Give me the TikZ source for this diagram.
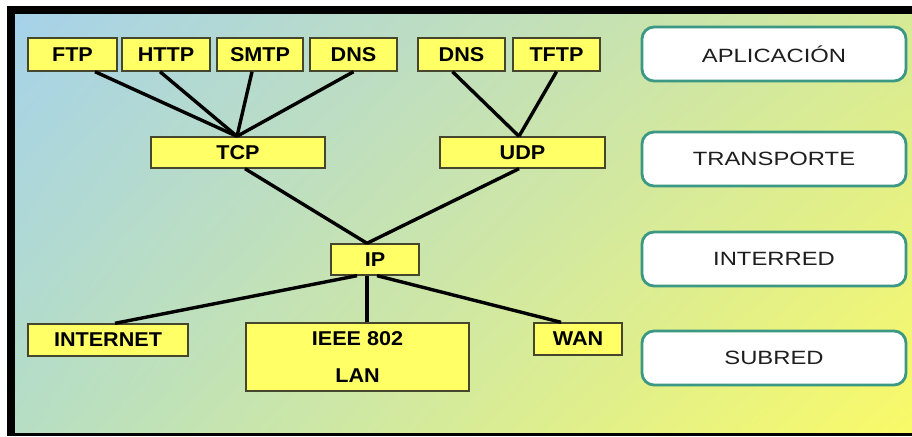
\documentclass[tikz,border=0pt]{standalone}
\usepackage{fontspec}
\usepackage{graphicx}
\setmainfont{Liberation Sans}
\usetikzlibrary{calc,shadings}

\definecolor{boxyellow}{RGB}{255,255,102}
\definecolor{boxedge}{RGB}{70,70,45}
\definecolor{layeredge}{RGB}{58,152,132}
\definecolor{layertext}{RGB}{30,30,30}
\definecolor{bgul}{RGB}{166,210,234}
\definecolor{bgur}{RGB}{214,234,150}
\definecolor{bgll}{RGB}{182,222,196}
\definecolor{bglr}{RGB}{250,250,104}

% horizontally widened labels
\newcommand\protolabel[1]{\scalebox{1.08}[1]{#1}}
\newcommand\layerlabel[1]{\scalebox{1.24}[1]{#1}}

\begin{document}
\begin{tikzpicture}[x=1pt,y=-1pt,
  proto/.style={draw=boxedge, line width=1.4pt, fill=boxyellow, inner sep=0pt,
    font=\fontsize{20}{24}\selectfont\bfseries},
  layer/.style={draw=layeredge, line width=2.8pt, fill=white, rounded corners=12pt,
    minimum width=264pt, minimum height=54pt, inner sep=0pt,
    font=\fontsize{19.2}{22}\selectfont, text=layertext},
  link/.style={line width=3.4pt, black}]

% page, black frame and gradient panel
\useasboundingbox (0,0) rectangle (912,436);
\fill[white] (0,0) rectangle (912,436);
\fill[black] (7,6) rectangle (912,436);
\shade[upper left=bgul, upper right=bgur, lower left=bgll, lower right=bglr]
  (15,15) rectangle (912,432);

% application protocols
\node[proto, minimum width=89pt, minimum height=33pt] (ftp)  at (72.5,54.5)  {\protolabel{FTP}};
\node[proto, minimum width=88pt, minimum height=33pt] (http) at (166,54.5)   {\protolabel{HTTP}};
\node[proto, minimum width=86pt, minimum height=33pt] (smtp) at (260,54.5)   {\protolabel{SMTP}};
\node[proto, minimum width=87pt, minimum height=33pt] (dnsa) at (353.5,54.5) {\protolabel{DNS}};
\node[proto, minimum width=87pt, minimum height=33pt] (dnsb) at (461.5,54.5) {\protolabel{DNS}};
\node[proto, minimum width=87pt, minimum height=33pt] (tftp) at (556.5,54.5) {\protolabel{TFTP}};

% transport
\node[proto, minimum width=174pt, minimum height=31pt] (tcp) at (238,152.5)   {\protolabel{TCP}};
\node[proto, minimum width=165pt, minimum height=31pt] (udp) at (522.5,152.5) {\protolabel{UDP}};

% internetwork
\node[proto, minimum width=88pt, minimum height=31pt] (ip) at (375,259.5) {\protolabel{IP}};

% subnetworks
\node[proto, minimum width=160pt, minimum height=32pt] (inet) at (108,340) {\protolabel{INTERNET}};
\node[proto, minimum width=223pt, minimum height=68pt, align=center,
  font=\fontsize{20}{37}\selectfont\bfseries] (lan) at (357.5,357)
  {\protolabel{IEEE 802}\\\protolabel{LAN}};
\node[proto, minimum width=88pt, minimum height=32pt] (wan) at (578,339) {\protolabel{WAN}};

% layer names
\node[layer] (app)  at (774,54)  {\layerlabel{APLICACIÓN}};
\node[layer] (trn)  at (774,159) {\layerlabel{TRANSPORTE}};
\node[layer] (inr)  at (774,259) {\layerlabel{INTERRED}};
\node[layer] (sub)  at (774,358) {\layerlabel{SUBRED}};

% connectors
\coordinate (tcptop) at ($(tcp.north)+(-1,0)$);
\coordinate (udptop) at ($(udp.north)+(-3.5,0)$);
\coordinate (iptop)  at ($(ip.north)+(-8,0)$);
\draw[link] ($(ftp.south)+(22.5,0)$)  -- (tcptop);
\draw[link] ($(http.south)+(-6,0)$)   -- (tcptop);
\draw[link] ($(smtp.south)+(-8,0)$)   -- (tcptop);
\draw[link] ($(dnsa.south)+(0,0)$)    -- (tcptop);
\draw[link] ($(dnsb.south)+(-9,0)$)   -- (udptop);
\draw[link] ($(tftp.south)+(0,0)$)    -- (udptop);
\draw[link] ($(tcp.south)+(7,0)$)     -- (iptop);
\draw[link] ($(udp.south)+(-3.5,0)$)  -- (iptop);
\draw[link] ($(ip.south)+(-18,0)$)    -- ($(inet.north)+(7,0)$);
\draw[link] ($(ip.south)+(-8,0)$)     -- ($(lan.north)+(9.5,0)$);
\draw[link] ($(ip.south)+(2,0)$)      -- ($(wan.north)+(-17,0)$);
\end{tikzpicture}
\end{document}
